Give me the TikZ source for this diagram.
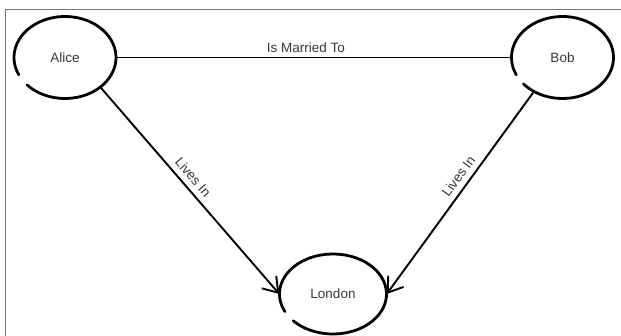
\documentclass[tikz,border=0pt]{standalone}
\usepackage{fontspec}
\setmainfont{Liberation Sans}
\usetikzlibrary{arrows.meta,shapes.geometric}
\definecolor{framecol}{gray}{0.45}
\definecolor{labcol}{gray}{0.22}
\tikzset{
  person/.style={ellipse,inner sep=0pt,minimum width=102,minimum height=82,text=labcol,font=\fontsize{13.5}{16}\selectfont},
  sketch/.style={line width=2.8pt,line cap=round,line join=round},
  rel/.style={line width=1.9pt,line cap=round},
  livesin/.style={rel,-{Straight Barb[length=14pt,width=19pt,line width=1.9pt]}},
  elab/.style={text=labcol,font=\fontsize{13.5}{16}\selectfont,inner sep=4pt},
}

\begin{document}
\begin{tikzpicture}[x=1pt,y=1pt]
  \useasboundingbox (0,0) rectangle (621,-336);
  \draw[framecol,line width=1pt] (621,-10) -- (5,-10) -- (5,-336);
  \node[person] (alice) at (65,-57.5) {Alice};
  \node[person] (bob) at (562.5,-57.5) {Bob};
  \node[person,minimum width=107,minimum height=80] (london) at (333,-294) {London};
  \draw[sketch] ([shift={(222:51 and 41)}]alice.center) arc[start angle=222,end angle=565,x radius=51,y radius=41];
  \draw[sketch] ([shift={(220:51 and 41)}]bob.center) arc[start angle=220,end angle=565,x radius=51,y radius=41];
  \draw[sketch] ([shift={(222:53.5 and 40)}]london.center) arc[start angle=222,end angle=566,x radius=53.5,y radius=40];
  \draw[rel] (alice) -- node[elab,above,pos=0.48] {Is Married To} (bob);
  \draw[livesin] (alice.-40) -- node[elab,above,sloped,pos=0.47,inner sep=5.5pt] {Lives In} (london.west);
  \draw[livesin] (bob.-130) -- node[elab,above,sloped,pos=0.45,inner sep=5.5pt] {Lives In} (london.east);
\end{tikzpicture}
\end{document}
